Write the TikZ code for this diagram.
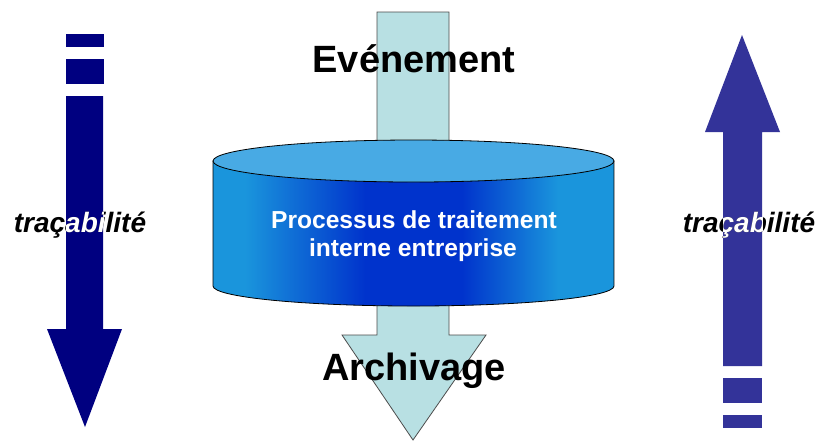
\documentclass[tikz,border=0pt]{standalone}
\usepackage{fontspec}
\usepackage{xcolor}
\usepackage{tikz}
\usetikzlibrary{scopes}
\newfontfamily\arialfont{Liberation Sans}

\definecolor{traceNavy}{HTML}{000080}
\definecolor{traceBlue}{HTML}{333399}
\definecolor{flowCyan}{HTML}{B8E0E3}
\definecolor{cylTop}{HTML}{48AAE4}
\definecolor{cylLight}{HTML}{1A95DC}
\definecolor{cylDark}{HTML}{0033CC}

% side of the cylinder: light at the edges, dark in the middle
\pgfdeclarehorizontalshading{cylside}{100bp}{color(0bp)=(cylLight); color(29bp)=(cylLight);
	color(44bp)=(cylDark); color(56bp)=(cylDark); color(68bp)=(cylLight); color(100bp)=(cylLight)}

\tikzset{
	bigText/.style={font=\arialfont\bfseries\fontsize{19}{22}\selectfont, inner sep=0pt},
	procText/.style={font=\arialfont\bfseries\fontsize{12.3}{14}\selectfont, text=white, inner sep=0pt},
	traceText/.style={font=\arialfont\bfseries\itshape\fontsize{14}{16}\selectfont, inner sep=0pt},
	flowArrow/.style={fill=flowCyan, draw=black!70, line width=0.4pt},
}

\begin{document}
\begin{tikzpicture}[x=0.5pt, y=-0.5pt]
	\useasboundingbox[fill=white] (0,0) rectangle (819,441);
	
	% left arrow (down)
	\fill[traceNavy] (66,34) rectangle (104,47);
	\fill[traceNavy] (66,59) rectangle (104,84);
	\fill[traceNavy] (66,96) -- (103,96) -- (103,329) -- (122,329) -- (85,427) -- (47,329) -- (66,329) -- cycle;
	\node[traceText, anchor=base] (traceL) at (80,232) {traçabilité};
	{ [ ] \clip (66,96) rectangle (103,329);
		\node[traceText, anchor=base, text=white] at (traceL.base) {traçabilité};
	}
	
	% right arrow (up)
	\fill[traceBlue] (723,378) rectangle (762,403);
	\fill[traceBlue] (723,415) rectangle (762,428);
	\fill[traceBlue] (742,35) -- (780,132) -- (762,132) -- (762,366) -- (723,366) -- (723,132) -- (705,132) -- cycle;
	\node[traceText, anchor=base] (traceR) at (749,232) {traçabilité};
	{ [ ] \clip (723,132) rectangle (762,366);
		\node[traceText, anchor=base, text=white] at (traceR.base) {traçabilité};
	}
	
	% flow through the process
	\draw[flowArrow] (377,12) -- (449,12) -- (449,335) -- (486,335) -- (413,440) -- (342,335) -- (377,335) -- cycle;
	
	% cylinder
	\shade[shading=cylside, draw=black, line width=0.4pt] (213,161) -- (213,286) arc[start angle=180, end angle=0, x radius=200.5, y radius=20] -- (614,161) -- cycle;
	\draw[fill=cylTop, line width=0.4pt] (413.5,161) ellipse [x radius=200.5, y radius=21];
	\node[procText, anchor=base] (procA) at (414,228) {Processus de traitement};
	\node[procText, anchor=base] (procB) at (413,256) {interne entreprise};
	
	\node[bigText, anchor=base] (event) at (414,72) {Evénement};
	\node[bigText, anchor=base] (archive) at (414,380) {Archivage};
\end{tikzpicture}
\end{document}
